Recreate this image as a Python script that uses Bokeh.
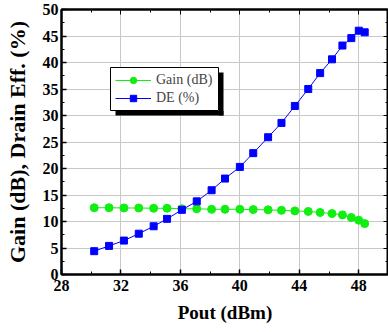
from bokeh.plotting import figure
from bokeh.models import (LinearAxis, Range1d, Legend, LegendItem, FixedTicker)
from bokeh.embed import file_html
from bokeh.resources import INLINE

pout = [30.2, 31.2, 32.2, 33.2, 34.2, 35.1, 36.1, 37.1, 38.1, 39.0, 40.0,
        40.9, 41.9, 42.8, 43.7, 44.6, 45.4, 46.2, 46.9, 47.5, 48.0, 48.4]
gain = [12.6, 12.6, 12.55, 12.55, 12.5, 12.5, 12.4, 12.4, 12.3, 12.3, 12.3,
        12.25, 12.2, 12.1, 12.0, 11.9, 11.7, 11.5, 11.25, 10.75, 10.25, 9.6]
de = [4.4, 5.4, 6.4, 7.7, 9.1, 10.5, 12.2, 13.8, 15.9, 18.1, 20.3,
      22.9, 25.9, 28.6, 31.8, 35.0, 38.0, 40.6, 43.2, 44.6, 46.0, 45.7]
x_ticks = [28, 32, 36, 40, 44, 48]
y_ticks = [0, 5, 10, 15, 20, 25, 30, 35, 40, 45, 50]

FONT = "'Liberation Serif'"
GREEN = "#11ee11"
BLUE = "#0000ff"

# frame geometry in pixels (used only to place the legend box and its shadow)
FL, FR, FT, FB = 61, 388, 9, 274
X0, X1, Y0, Y1 = 28, 50, 0, 50


def px_to_x(px):
    return X0 + (px - FL) * (X1 - X0) / (FR - FL)


def py_to_y(py):
    return Y0 + (FB - py) * (Y1 - Y0) / (FB - FT)


p = figure(width=388, height=332, output_backend="svg", toolbar_location=None,
           x_range=Range1d(X0, X1), y_range=Range1d(Y0, Y1),
           x_axis_label="Pout (dBm)", y_axis_label="Gain (dB), Drain Eff. (%)")
p.min_border_left = FL
p.min_border_right = 388 - FR
p.min_border_top = FT
p.min_border_bottom = 332 - FB
p.background_fill_color = "white"
p.border_fill_color = "white"
p.outline_line_color = "black"
p.outline_line_width = 2


def minor(ticks):
    return [t + (ticks[1] - ticks[0]) / 2 for t in ticks[:-1]]


for ax, ticks in ((p.xaxis[0], x_ticks), (p.yaxis[0], y_ticks)):
    ax.ticker = FixedTicker(ticks=ticks, minor_ticks=minor(ticks))
    ax.major_tick_in = 5
    ax.major_tick_out = 0
    ax.minor_tick_in = 3
    ax.minor_tick_out = 0
    ax.axis_line_width = 2
    ax.major_tick_line_width = 1.5
    ax.major_label_text_font = FONT
    ax.major_label_text_font_style = "bold"
    ax.major_label_text_font_size = "16px"
    ax.major_label_text_color = "black"
    ax.axis_label_text_font = FONT
    ax.axis_label_text_font_style = "bold"
    ax.axis_label_text_color = "black"
p.xaxis[0].axis_label_text_font_size = "19px"
p.yaxis[0].axis_label_text_font_size = "22px"
p.xaxis[0].major_label_standoff = 5
p.yaxis[0].major_label_standoff = 3
p.xaxis[0].axis_label_standoff = 8
p.yaxis[0].axis_label_standoff = 10

for loc, ticks in (("above", x_ticks), ("right", y_ticks)):
    ax = LinearAxis()
    ax.ticker = FixedTicker(ticks=ticks, minor_ticks=minor(ticks))
    ax.major_label_overrides = {t: "" for t in ticks}
    ax.major_tick_in = 5
    ax.major_tick_out = 0
    ax.minor_tick_in = 3
    ax.minor_tick_out = 0
    ax.axis_line_width = 2
    ax.major_label_standoff = 0
    p.add_layout(ax, loc)

p.xgrid.ticker = FixedTicker(ticks=x_ticks)
p.ygrid.ticker = FixedTicker(ticks=y_ticks)
p.grid.grid_line_color = "#c8c8c8"
p.grid.grid_line_width = 1

# legend box (decoration)
p.quad(left=[px_to_x(110)], right=[px_to_x(218)], top=[py_to_y(67)],
       bottom=[py_to_y(110)], fill_color="white", line_color="black", line_width=1)
# legend drop shadow: a strip on the right and one along the bottom
p.quad(left=[px_to_x(218.5), px_to_x(115)], right=[px_to_x(223), px_to_x(223)],
       top=[py_to_y(72), py_to_y(110.5)], bottom=[py_to_y(115), py_to_y(115)],
       fill_color="black", line_color=None)

gl = p.line(pout, gain, line_color=GREEN, line_width=1)
gm = p.scatter(pout, gain, marker="circle", size=8, fill_color=GREEN, line_color=GREEN)
dl = p.line(pout, de, line_color=BLUE, line_width=1)
dm = p.scatter(pout, de, marker="square", size=7, fill_color=BLUE, line_color=BLUE)

legend = Legend(items=[LegendItem(label="Gain (dB)", renderers=[gl, gm]),
                       LegendItem(label="DE (%)", renderers=[dl, dm])],
                location=(49, 163), label_text_font=FONT, label_text_font_size="14px",
                border_line_alpha=0, background_fill_alpha=0,
                glyph_width=36, glyph_height=16, label_height=16, spacing=2,
                padding=5, margin=0, label_standoff=5, level="overlay")
p.add_layout(legend)

open("out.html", "w").write(file_html(p, INLINE))
